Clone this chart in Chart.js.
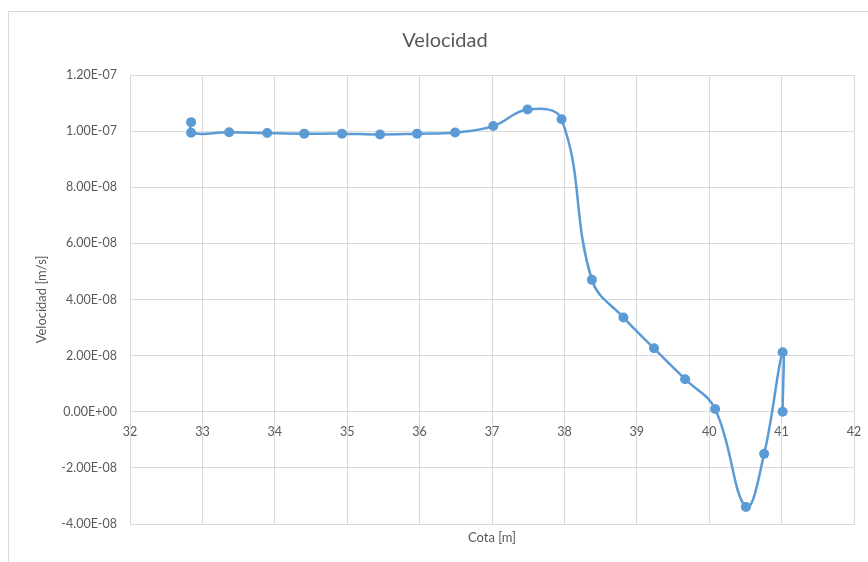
<!DOCTYPE html>
<html>
<head>
<meta charset="utf-8">
<title>Velocidad</title>
<script src="https://cdn.jsdelivr.net/npm/chart.js@4/dist/chart.umd.min.js"></script>
<style>
  html, body { margin: 0; padding: 0; background: #ffffff; }
  canvas { display: block; }
</style>
</head>
<body>
<canvas id="chart" width="868" height="562"></canvas>
<script>
// Elevation (Cota, m) of each measurement point
const cota = [
  32.844, 32.844, 33.369, 33.895, 34.407, 34.928, 35.454, 35.965, 36.491,
  37.017, 37.491, 37.961, 38.380, 38.815, 39.238, 39.667, 40.082, 40.507,
  40.759, 41.014, 41.014
];
// Velocity (m/s) at each point
const velocidad = [
  1.032e-7, 9.94e-8, 9.96e-8, 9.93e-8, 9.91e-8, 9.91e-8, 9.88e-8, 9.91e-8, 9.95e-8,
  1.018e-7, 1.077e-7, 1.042e-7, 4.70e-8, 3.36e-8, 2.26e-8, 1.16e-8, 1.0e-9, -3.39e-8,
  -1.50e-8, 2.12e-8, 0
];
// Axis ranges and steps
const xRange = [32, 42];
const xStep = 1;
const yRange = [-4e-8, 1.2e-7];
const yStep = 2e-8;
const chartTitle = 'Velocidad';

const textColor = '#595959';
const gridColor = '#D9D9D9';
const seriesColor = '#5B9BD5';
const fontFamily = 'Lato, "Open Sans", sans-serif';

// Scientific notation with a two-digit exponent, e.g. 1.20E-07
function sci(v) {
  if (Math.abs(v) < 1e-15) v = 0;
  const [m, e] = v.toExponential(2).split('e');
  const sign = e[0] === '-' ? '-' : '+';
  const digits = e.replace(/[+-]/, '').padStart(2, '0');
  return m + 'E' + sign + digits;
}

// Thin frame around the whole chart, plus the chart title centred over the frame
const chartFrame = {
  id: 'chartFrame',
  beforeDraw(chart) {
    const ctx = chart.ctx;
    ctx.save();
    ctx.fillStyle = '#ffffff';
    ctx.fillRect(0, 0, chart.width, chart.height);
    ctx.strokeStyle = gridColor;
    ctx.lineWidth = 1;
    ctx.strokeRect(8.5, 11.5, chart.width + 20, chart.height + 20);
    ctx.restore();
  },
  afterDraw(chart) {
    const ctx = chart.ctx;
    ctx.save();
    ctx.fillStyle = textColor;
    ctx.font = '20px ' + fontFamily;
    ctx.textAlign = 'center';
    ctx.textBaseline = 'middle';
    ctx.fillText(chartTitle, 445, 41);
    ctx.restore();
  }
};

const points = cota.map((x, i) => ({ x: x, y: velocidad[i] }));

new Chart(document.getElementById('chart'), {
  type: 'scatter',
  data: {
    datasets: [{
      label: 'Velocidad',
      data: points,
      showLine: true,
      tension: 0.4,
      borderColor: seriesColor,
      backgroundColor: seriesColor,
      borderWidth: 2.5,
      pointRadius: 5,
      pointHoverRadius: 5,
      pointBorderWidth: 0,
      pointBackgroundColor: seriesColor
    }]
  },
  options: {
    responsive: false,
    animation: false,
    events: [],
    layout: { padding: { left: 0, right: 14, top: 75, bottom: 0 } },
    plugins: {
      legend: { display: false },
      tooltip: { enabled: false },
      title: { display: false }
    },
    scales: {
      x: {
        type: 'linear',
        position: 'bottom',
        min: xRange[0],
        max: xRange[1],
        ticks: { display: false, stepSize: xStep },
        grid: { color: gridColor, drawTicks: false },
        border: { color: gridColor },
        title: {
          display: true,
          text: 'Cota [m]',
          color: textColor,
          font: { family: fontFamily, size: 13 },
          padding: { top: 0, bottom: 16.2 }
        },
        afterFit(scale) {
          scale.height = 38;
          scale.paddingLeft = 0;
          scale.paddingRight = 0;
        }
      },
      xLabels: {
        type: 'linear',
        axis: 'x',
        position: { y: 0 },
        min: xRange[0],
        max: xRange[1],
        ticks: {
          stepSize: xStep,
          padding: 13,
          color: textColor,
          font: { family: fontFamily, size: 12.5 },
          maxRotation: 0
        },
        grid: { display: false, drawTicks: false },
        border: { display: false },
        afterFit(scale) {
          scale.paddingLeft = 0;
          scale.paddingRight = 0;
        }
      },
      y: {
        type: 'linear',
        min: yRange[0],
        max: yRange[1],
        ticks: {
          stepSize: yStep,
          padding: 13,
          color: textColor,
          font: { family: fontFamily, size: 12.5 },
          callback: (v) => sci(v)
        },
        grid: { color: gridColor, drawTicks: false },
        border: { color: gridColor },
        title: {
          display: true,
          text: 'Velocidad [m/s]',
          color: textColor,
          font: { family: fontFamily, size: 13 },
          padding: { top: 34.2, bottom: 0 }
        },
        afterFit(scale) {
          scale.width = 130;
          scale.paddingTop = 0;
          scale.paddingBottom = 0;
        }
      }
    }
  },
  plugins: [chartFrame]
});
</script>
</body>
</html>
